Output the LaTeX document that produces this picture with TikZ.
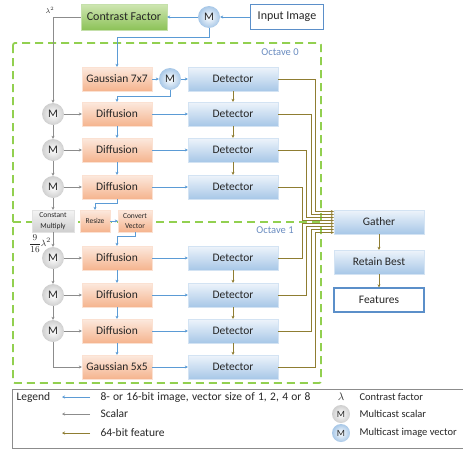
\documentclass[tikz,border=0pt]{standalone}
\usepackage{fontspec}
\setmainfont{Carlito}
\usetikzlibrary{arrows.meta,calc}
\definecolor{lineblue}{HTML}{5B9BD5}
\definecolor{linegray}{HTML}{8C8C8C}
\definecolor{linebrown}{HTML}{8F7D32}
\definecolor{dgreen}{HTML}{92D050}
\definecolor{octblue}{HTML}{6A8CC0}
\definecolor{txt}{HTML}{262626}
\definecolor{orTop}{HTML}{FCE9DE}
\definecolor{orBot}{HTML}{F5B48E}
\definecolor{blTop}{HTML}{EEF4FB}
\definecolor{blBot}{HTML}{A7C7E7}
\definecolor{grTop}{HTML}{CFE6B3}
\definecolor{grBot}{HTML}{8CC257}
\definecolor{gyTop}{HTML}{F4F4F4}
\definecolor{gyBot}{HTML}{CFCFCF}
\definecolor{bordblue}{HTML}{5B8FC9}
\tikzset{
  box/.style={minimum width=70pt, minimum height=24pt, inner sep=1pt, text=txt,
    font=\fontsize{11.5}{13}\selectfont},
  orangebox/.style={box, top color=orTop, bottom color=orBot, draw=orBot!40, line width=0.3pt},
  detbox/.style={box, minimum width=90pt, top color=blTop, bottom color=blBot, draw=blBot!50, line width=0.3pt},
  greenbox/.style={box, top color=grTop, bottom color=grBot, draw=grBot!50, line width=0.3pt},
  graybox/.style={box, top color=gyTop, bottom color=gyBot, draw=gyBot!60, line width=0.3pt},
  whitebox/.style={box, minimum width=90pt, fill=white, draw=bordblue, line width=1.3pt},
  mgray/.style={circle, minimum size=22pt, inner sep=0pt, inner color=white, outer color=gyBot,
    text=txt, font=\fontsize{11.5}{13}\selectfont},
  mblue/.style={circle, minimum size=22pt, inner sep=0pt, inner color=white, outer color=blBot,
    text=txt, font=\fontsize{11.5}{13}\selectfont},
  bluearr/.style={draw=lineblue, line width=0.8pt, -{Stealth[length=3pt,width=3pt]}},
  grayarr/.style={draw=linegray, line width=0.8pt, -{Stealth[length=3pt,width=3pt]}},
  featarr/.style={draw=linebrown, line width=0.8pt, -{Stealth[length=3pt,width=3pt]}},
  octline/.style={draw=dgreen, line width=1.8pt, dash pattern=on 8pt off 5pt},
  octlabel/.style={text=octblue, font=\fontsize{10.5}{12}\selectfont},
  legtext/.style={anchor=west, text=txt, font=\fontsize{11.5}{13}\selectfont},
  legtextr/.style={anchor=west, text=txt, font=\fontsize{10.5}{12}\selectfont}
}
\begin{document}
\begin{tikzpicture}[x=1pt, y=-1pt]
\useasboundingbox (0,0) rectangle (463,450);
% octave frames
\draw[octline, rounded corners=2pt] (13,43) rectangle (321,383);
\draw[octline] (13,222) -- (321,222);
\node[octlabel] (o0) at (280,52) {Octave 0};
\node[octlabel] (o1) at (275,230) {Octave 1};
% top row
\node[greenbox, minimum width=86pt, minimum height=26pt, font=\fontsize{12}{14}\selectfont] (cf) at (124,17) {Contrast Factor};
\node[mblue] (mt) at (209,17) {M};
\node[whitebox, minimum width=73pt, minimum height=25pt, font=\fontsize{12}{14}\selectfont] (in) at (287,17) {Input Image};
\node[text=txt, font=\fontsize{7}{8}\selectfont] (lam) at (50,10) {$\lambda^2$};
% octave 0 and 1 stages
\node[orangebox] (g7) at (117,79) {Gaussian 7x7};
\node[mblue] (mb) at (170,79) {M};
\foreach \i/\y in {1/79,2/114,3/150,4/187,5/258,6/295,7/331,8/367}
  \node[detbox] (d\i) at (233,\y) {Detector};
\foreach \i/\y in {1/114,2/150,3/187,4/258,5/295,6/331}
  \node[orangebox] (f\i) at (117,\y) {Diffusion};
\foreach \i/\y in {1/114,2/150,3/187,4/258,5/295,6/331}
  \node[mgray] (m\i) at (53,\y) {M};
\node[orangebox] (g5) at (117,367) {Gaussian 5x5};
\node[graybox, minimum width=42pt, minimum height=22pt, align=center,
  font=\fontsize{7.5}{10.5}\selectfont] (cm) at (53,221) {Constant\\Multiply};
\node[orangebox, minimum width=30pt, minimum height=22pt,
  font=\fontsize{7.5}{10}\selectfont] (rs) at (95,221) {Resize};
\node[orangebox, minimum width=34pt, minimum height=22pt, align=center,
  font=\fontsize{7.5}{10.5}\selectfont] (cv) at (135,221) {Convert\\Vector};
\node[text=txt, font=\fontsize{9.5}{11}\selectfont] (lam2) at (40,244) {$\displaystyle\frac{9}{16}\lambda^2$};
% right column
\node[detbox] (ga) at (379,222) {Gather};
\node[detbox] (rb) at (379,262) {Retain Best};
\node[whitebox] (ft) at (379,300) {Features};
% top connectors
\draw[bluearr] (in.west) -- (mt.east);
\draw[bluearr] (mt.west) -- (cf.east);
\draw[bluearr] (mt.south) -- ++(0,9) -| (g7.north);
\draw[grayarr] (cf.west) -| (m1.north);
% image path
\draw[bluearr] (g7.east) -- (mb.west);
\draw[bluearr] (mb.east) -- (d1.west);
\draw[bluearr] (mb.south) -- ++(0,6) -| (f1.north);
\foreach \i in {1,...,6} {
  \draw[grayarr] (m\i.east) -- (f\i.west);
}
\foreach \i/\j in {1/2,2/3,3/4,4/5,5/6,6/7}
  \draw[bluearr] (f\i.east) -- (d\j.west);
\draw[bluearr] (f1.south) -- (f2.north);
\draw[bluearr] (f2.south) -- (f3.north);
\draw[bluearr] (f4.south) -- (f5.north);
\draw[bluearr] (f5.south) -- (f6.north);
\draw[bluearr] (f6.south) -- (g5.north);
\draw[bluearr] (g5.east) -- (d8.west);
\draw[grayarr] (m1.south) -- (m2.north);
\draw[grayarr] (m2.south) -- (m3.north);
\draw[grayarr] (m3.south) -- (cm.north);
\draw[grayarr] (cm.south) -- (m4.north);
\draw[grayarr] (m4.south) -- (m5.north);
\draw[grayarr] (m5.south) -- (m6.north);
\draw[grayarr] (m6.south) |- (g5.west);
\draw[bluearr] (f3.south) -- ++(0,4) -| (rs.north);
\draw[bluearr] (rs.east) -- (cv.west);
\draw[bluearr] (cv.south) -- ++(0,4) -| (f4.north);
% detector chain
\foreach \i/\j in {1/2,2/3,3/4,5/6,6/7,7/8}
  \draw[featarr] (d\i.south) -- (d\j.north);
% feature bus
\foreach \i/\dx/\dy in {1/-18/-10.5, 2/-22.5/-7.5, 3/-27/-4.5, 4/-31.5/-1.5,
                        5/-31.5/1.5, 6/-27/4.5, 7/-22.5/7.5, 8/-18/10.5}
  \draw[featarr] (d\i.east) -| ($(ga.west)+(\dx,\dy)$) -- ($(ga.west)+(0,\dy)$);
\draw[featarr] (ga.south) -- (rb.north);
\draw[featarr] (rb.south) -- (ft.north);
% legend
\draw[draw=black!45, line width=0.6pt] (12,389) -- (470,389);
\draw[draw=black!45, line width=0.6pt] (470,448) -- (12,448) -- (12,389);
\node[legtext] (lg) at (13,397) {Legend};
\coordinate (la1) at (62,397); \coordinate (lb1) at (90,397);
\coordinate (la2) at (62,414); \coordinate (lb2) at (90,414);
\coordinate (la3) at (62,433); \coordinate (lb3) at (90,433);
\draw[bluearr] (lb1) -- (la1);
\draw[grayarr] (lb2) -- (la2);
\draw[featarr] (lb3) -- (la3);
\node[legtext] (lt1) at (97,397) {\makebox[210pt][s]{8- or 16-bit image, vector size of 1, 2, 4 or 8}};
\node[legtext] (lt2) at (97,414) {Scalar};
\node[legtext] (lt3) at (97,433) {64-bit feature};
\node[text=txt, font=\fontsize{10.5}{12}\selectfont] (ll) at (341,397) {$\lambda$};
\node[mgray, minimum size=18pt, font=\fontsize{9.5}{10}\selectfont] (lm1) at (341,414) {M};
\node[mblue, minimum size=18pt, font=\fontsize{9.5}{10}\selectfont] (lm2) at (341,433) {M};
\node[legtextr] (lr1) at (356,397) {Contrast factor};
\node[legtextr] (lr2) at (356,414) {Multicast scalar};
\node[legtextr] (lr3) at (356,433) {Multicast image vector};
\end{tikzpicture}
\end{document}
